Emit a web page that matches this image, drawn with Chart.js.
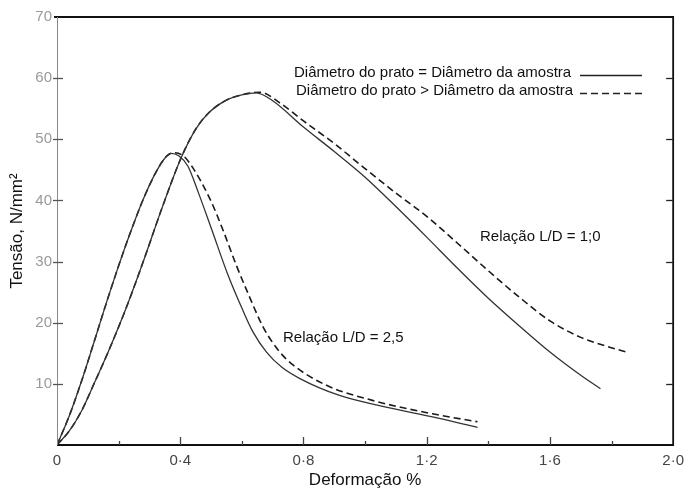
<!DOCTYPE html>
<html>
<head>
<meta charset="utf-8">
<script src="https://cdn.jsdelivr.net/npm/chart.js@4.4.1/dist/chart.umd.min.js"></script>
<style>
  html, body { margin: 0; padding: 0; background: #fff; }
</style>
</head>
<body>
<canvas id="chart" width="691" height="493"></canvas>
<script>
// tick labels
const xTickLabels = ["0", "0·4", "0·8", "1·2", "1·6", "2·0"];
const yTickLabels = ["", "10", "20", "30", "40", "50", "60", "70"];

// series: [deformação %, tensão N/mm²]
// L/D = 2,5
const ld25Equal = [[0,0],[0.04,4.8],[0.08,10.5],[0.12,16.8],[0.16,23.2],[0.2,29.3],[0.24,35],[0.28,40.2],[0.32,44.5],[0.35,46.9],[0.37,47.7],[0.395,47.3],[0.425,45.6],[0.458,41.4],[0.501,35.4],[0.555,27.8],[0.6,22.4],[0.636,18.5],[0.68,15.2],[0.73,12.7],[0.787,10.9],[0.917,8.1],[1.068,6.2],[1.219,4.6],[1.365,2.9]];
const ld25Larger = [[0,0],[0.04,4.8],[0.08,10.5],[0.12,16.8],[0.16,23.2],[0.2,29.3],[0.24,35],[0.28,40.2],[0.32,44.5],[0.355,47.2],[0.38,47.8],[0.41,47.3],[0.44,45.4],[0.496,40.3],[0.54,35],[0.582,29.4],[0.62,24.8],[0.67,19.2],[0.72,15.4],[0.766,13.1],[0.873,9.8],[1.024,7.3],[1.219,5.1],[1.365,3.8]];
// L/D = 1,0
const ld10Equal = [[0,0],[0.04,2.3],[0.08,5.6],[0.12,10],[0.166,15.2],[0.226,22.6],[0.28,30],[0.339,38.5],[0.404,47.1],[0.452,51.8],[0.496,54.5],[0.55,56.4],[0.603,57.3],[0.647,57.6],[0.7,56.3],[0.8,52],[0.9,48],[1,43.8],[1.1,39],[1.2,34],[1.3,28.9],[1.4,24],[1.5,19.5],[1.6,15.2],[1.7,11.4],[1.764,9.2]];
const ld10Larger = [[0,0],[0.04,2.3],[0.08,5.6],[0.12,10],[0.166,15.2],[0.226,22.6],[0.28,30],[0.339,38.5],[0.404,47.1],[0.452,51.8],[0.496,54.5],[0.55,56.4],[0.603,57.3],[0.66,57.7],[0.722,56],[0.8,53],[0.9,49.3],[1,45.2],[1.1,41.2],[1.2,37.4],[1.3,33],[1.4,28.5],[1.5,24.2],[1.6,20.3],[1.7,17.6],[1.78,16.2],[1.856,15.1]];

const legendLabels = ["Diâmetro do prato = Diâmetro da amostra", "Diâmetro do prato > Diâmetro da amostra"];
const noteLabels = ["Relação L/D = 1;0", "Relação L/D = 2,5"];

const toPts = arr => arr.map(p => ({ x: p[0], y: p[1] }));
const FONT = "'Liberation Sans', Arial, sans-serif";
const DASH = [7, 4];

const solid = { borderColor: "#333", borderWidth: 1.3, pointRadius: 0, showLine: true, cubicInterpolationMode: "monotone", fill: false };
const dashed = { borderColor: "#1a1a1a", borderWidth: 1.6, borderDash: DASH, pointRadius: 0, showLine: true, cubicInterpolationMode: "monotone", fill: false };

// frame, inward ticks, legend and notes
const framePlugin = {
  id: "frame",
  afterDraw(chart) {
    const { ctx, chartArea: a, scales: { x, y } } = chart;
    ctx.save();
    ctx.strokeStyle = "#111";
    ctx.lineWidth = 1.8;
    ctx.beginPath();
    ctx.moveTo(a.left - 3, a.top); ctx.lineTo(a.right, a.top);
    ctx.lineTo(a.right, a.bottom); ctx.lineTo(a.left, a.bottom);
    ctx.stroke();
    ctx.strokeStyle = "#888";
    ctx.lineWidth = 1;
    ctx.beginPath();
    ctx.moveTo(a.left + 0.5, a.top); ctx.lineTo(a.left + 0.5, a.bottom);
    ctx.stroke();

    // y ticks, left and right
    ctx.lineWidth = 1.3;
    y.ticks.forEach(t => {
      if (t.value <= 0 || t.value >= 70) return;
      const py = Math.round(y.getPixelForValue(t.value)) + 0.5;
      ctx.strokeStyle = "#555";
      ctx.beginPath(); ctx.moveTo(a.left - 4, py); ctx.lineTo(a.left + 6, py); ctx.stroke();
      ctx.strokeStyle = "#222";
      ctx.beginPath(); ctx.moveTo(a.right - 7, py); ctx.lineTo(a.right, py); ctx.stroke();
    });
    // x ticks, major every 0.4, minor between
    ctx.strokeStyle = "#444";
    x.ticks.forEach((t, i) => {
      if (t.value <= 0 || t.value >= 2) return;
      const px = Math.round(x.getPixelForValue(t.value)) + 0.5;
      const len = i % 2 === 0 ? 8 : 4;
      ctx.beginPath(); ctx.moveTo(px, a.bottom); ctx.lineTo(px, a.bottom - len); ctx.stroke();
    });

    // legend
    ctx.fillStyle = "#111";
    ctx.font = "15px " + FONT;
    ctx.textBaseline = "middle";
    ctx.textAlign = "left";
    ctx.fillText(legendLabels[0], 294, 73);
    ctx.fillText(legendLabels[1], 296, 91);
    ctx.strokeStyle = "#222";
    ctx.lineWidth = 1.3;
    ctx.beginPath(); ctx.moveTo(580, 75.5); ctx.lineTo(642, 75.5); ctx.stroke();
    ctx.setLineDash(DASH);
    ctx.lineWidth = 1.5;
    ctx.beginPath(); ctx.moveTo(580, 93.5); ctx.lineTo(642, 93.5); ctx.stroke();
    ctx.setLineDash([]);

    // curve notes
    ctx.fillText(noteLabels[0], 480, 237);
    ctx.fillText(noteLabels[1], 283, 338);
    ctx.restore();
  }
};

new Chart(document.getElementById("chart"), {
  type: "scatter",
  data: {
    datasets: [
      { label: "L/D 2,5 =", data: toPts(ld25Equal), ...solid },
      { label: "L/D 2,5 >", data: toPts(ld25Larger), ...dashed },
      { label: "L/D 1,0 =", data: toPts(ld10Equal), ...solid },
      { label: "L/D 1,0 >", data: toPts(ld10Larger), ...dashed }
    ]
  },
  options: {
    responsive: false,
    animation: false,
    devicePixelRatio: 1,
    layout: { padding: { top: 17, right: 17, left: 0, bottom: 0 } },
    plugins: { legend: { display: false }, tooltip: { enabled: false } },
    scales: {
      x: {
        type: "linear",
        min: 0,
        max: 2,
        afterFit: s => { s.height = 48; },
        border: { display: false },
        grid: { display: false, drawTicks: false },
        ticks: {
          stepSize: 0.2,
          autoSkip: false,
          maxRotation: 0,
          padding: 7,
          color: "#444",
          font: { family: FONT, size: 15 },
          callback: (v, i) => (i % 2 === 0 ? xTickLabels[i / 2] : "")
        },
        title: {
          display: true,
          text: "Deformação %",
          color: "#111",
          font: { family: FONT, size: 17 },
          padding: { top: 0, bottom: 2 }
        }
      },
      y: {
        type: "linear",
        min: 0,
        max: 70,
        afterFit: s => { s.width = 57; },
        border: { display: false },
        grid: { display: false, drawTicks: false },
        ticks: {
          stepSize: 10,
          padding: 5,
          color: "#999",
          font: { family: FONT, size: 15 },
          callback: (v, i) => yTickLabels[i]
        },
        title: {
          display: true,
          text: "Tensão, N/mm²",
          color: "#111",
          font: { family: FONT, size: 17 },
          padding: { top: 7, bottom: 0 }
        }
      }
    }
  },
  plugins: [framePlugin]
});
</script>
</body>
</html>
